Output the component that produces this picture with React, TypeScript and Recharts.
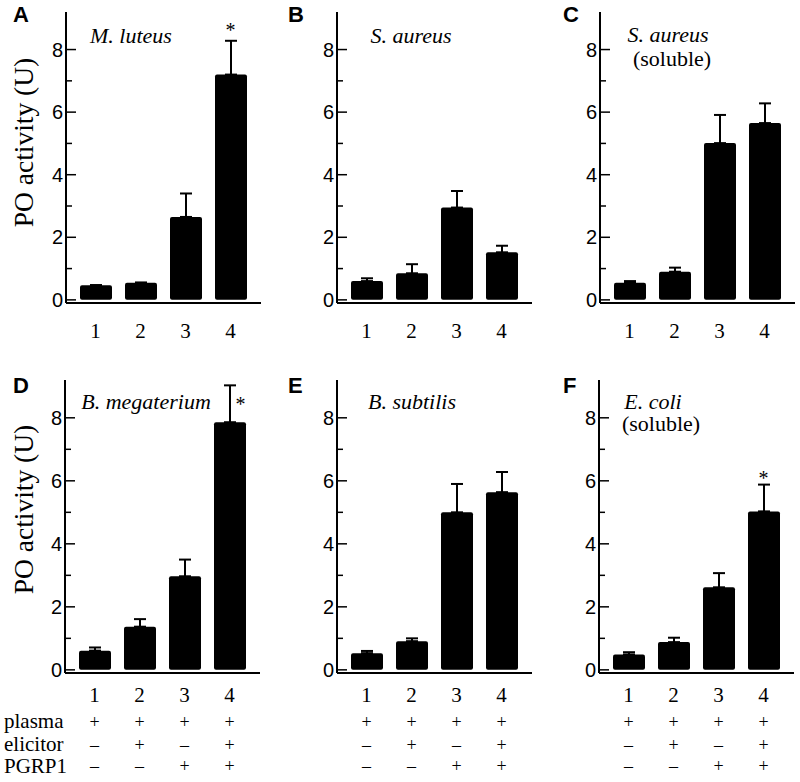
import React from "react";
import { BarChart, Bar, XAxis, YAxis, ErrorBar, ReferenceDot } from "recharts";

// experimental groups and axis ticks
const groups = ["1", "2", "3", "4"];
const yTicks = [0, 1, 2, 3, 4, 5, 6, 7, 8];

// PO activity (U), mean and upper error per group
const meansA = [0.47, 0.55, 2.65, 7.2];
const semA = [0, 0, 0.75, 1.08];
const meansB = [0.6, 0.85, 2.95, 1.52];
const semB = [0.09, 0.29, 0.53, 0.21];
const meansC = [0.55, 0.9, 5.01, 5.65];
const semC = [0.05, 0.13, 0.9, 0.63];
const meansD = [0.61, 1.37, 2.97, 7.86];
const semD = [0.1, 0.24, 0.53, 1.17];
const meansE = [0.53, 0.91, 5.0, 5.64];
const semE = [0.07, 0.09, 0.9, 0.64];
const meansF = [0.49, 0.88, 2.62, 5.03];
const semF = [0.07, 0.14, 0.45, 0.85];

// treatment table
const rowLabels = ["plasma", "elicitor", "PGRP1"];
const plasma = ["+", "+", "+", "+"];
const elicitor = ["\u2013", "+", "\u2013", "+"];
const pgrp1 = ["\u2013", "\u2013", "+", "+"];

const SERIF = "'Liberation Serif', 'Times New Roman', serif";
const SANS = "'Liberation Sans', Arial, sans-serif";
const YDOMAIN: [number, number] = [-0.1, 9.2];
const PW = 195;
const YW = 45;

const YTick = (p: any) => {
  const { x, y, payload } = p;
  const v = payload.value;
  const major = v % 2 === 0;
  return (
    <g>
      <line x1={x} x2={x + (major ? 10 : 6)} y1={y} y2={y} stroke="#000" strokeWidth={1.5} />
      {major && (
        <text x={x - 3} y={y} dy={7} textAnchor="end" fontFamily={SANS} fontSize={20} fill="#000">
          {v}
        </text>
      )}
    </g>
  );
};

const XTick = (p: any, row: number) => {
  const { x, y, payload, index } = p;
  const i = index ?? groups.indexOf(payload.value);
  const sym = (s: string, dy: number) => (
    <text x={x} y={y + dy} textAnchor="middle" fontFamily={SERIF} fontSize={18} fill="#000">
      {s}
    </text>
  );
  return (
    <g>
      <text x={x} y={y + (row === 1 ? 35 : 29)} textAnchor="middle" fontFamily={SERIF} fontSize={21} fill="#000">
        {payload.value}
      </text>
      {row === 2 && sym(plasma[i], 55)}
      {row === 2 && sym(elicitor[i], 78)}
      {row === 2 && sym(pgrp1[i], 99)}
    </g>
  );
};

type Star = { group: string; level: number; dx: number };

function Panel(props: {
  means: number[];
  sem: number[];
  left: number;
  top: number;
  height: number;
  row: number;
  star?: Star;
}) {
  const { means, sem, left, top, height, row, star } = props;
  const data = groups.map((g, i) => ({ group: g, value: means[i], err: [0, sem[i]] }));
  const xh = row === 1 ? 45 : 108;
  const frame = { stroke: "#000", strokeWidth: 2 };
  const pad = { left: 7, right: 8 };
  return (
    <div style={{ position: "absolute", left: left - YW, top: top - 10 }}>
      <BarChart
        width={YW + PW + 10}
        height={10 + height + xh}
        data={data}
        margin={{ top: 10, right: 10, bottom: 0, left: 0 }}
      >
        <XAxis
          dataKey="group"
          height={xh}
          padding={pad}
          axisLine={frame}
          tickLine={false}
          tickSize={0}
          tickMargin={0}
          interval={0}
          tick={(p: any) => XTick(p, row)}
        />
        <XAxis
          xAxisId="top"
          dataKey="group"
          orientation="top"
          height={0}
          padding={pad}
          axisLine={frame}
          tick={false}
          tickLine={false}
        />
        <YAxis
          type="number"
          domain={YDOMAIN}
          ticks={yTicks}
          interval={0}
          width={YW}
          axisLine={frame}
          tickLine={false}
          tickSize={0}
          tickMargin={0}
          tick={(p: any) => <YTick {...p} />}
        />
        <YAxis
          yAxisId="right"
          orientation="right"
          type="number"
          domain={YDOMAIN}
          width={0}
          axisLine={frame}
          tick={false}
          tickLine={false}
        />
        <Bar dataKey="value" fill="#000" barSize={32} radius={2} isAnimationActive={false}>
          <ErrorBar dataKey="err" width={6} stroke="#000" strokeWidth={2} direction="y" />
        </Bar>
        {star && (
          <ReferenceDot
            x={star.group}
            y={star.level}
            ifOverflow="visible"
            shape={(s: any) => (
              <text
                x={s.cx + star.dx}
                y={s.cy + 10}
                textAnchor="middle"
                fontFamily={SERIF}
                fontSize={20}
                fill="#000"
              >
                *
              </text>
            )}
          />
        )}
      </BarChart>
    </div>
  );
}

export default function App() {
  const it = { fontFamily: SERIF, fontSize: 22, fontStyle: "italic" as const, fill: "#000" };
  const up = { fontFamily: SERIF, fontSize: 22, fill: "#000" };
  const letter = { fontFamily: SANS, fontSize: 22, fontWeight: 700, fill: "#000" };
  return (
    <div style={{ position: "absolute", left: 0, top: 0, width: 800, height: 782, background: "#fff", overflow: "hidden" }}>
      <Panel means={meansA} sem={semA} left={66} top={12} height={291} row={1} star={{ group: "4", level: 8.73, dx: 0 }} />
      <Panel means={meansB} sem={semB} left={337} top={12} height={291} row={1} />
      <Panel means={meansC} sem={semC} left={600} top={12} height={291} row={1} />
      <Panel means={meansD} sem={semD} left={65} top={380} height={293} row={2} star={{ group: "4", level: 8.52, dx: 11 }} />
      <Panel means={meansE} sem={semE} left={337} top={380} height={293} row={2} />
      <Panel means={meansF} sem={semF} left={599} top={380} height={293} row={2} star={{ group: "4", level: 6.2, dx: 0 }} />
      <svg width={800} height={782} style={{ position: "absolute", left: 0, top: 0, pointerEvents: "none" }}>
        <text x={13} y={22} {...letter}>A</text>
        <text x={288} y={22} {...letter}>B</text>
        <text x={563} y={22} {...letter}>C</text>
        <text x={13} y={393} {...letter}>D</text>
        <text x={288} y={393} {...letter}>E</text>
        <text x={563} y={393} {...letter}>F</text>

        <text transform="translate(33,142.5) rotate(-90)" textAnchor="middle" fontFamily={SERIF} fontSize={27.5} fill="#000">
          PO activity (U)
        </text>
        <text transform="translate(33,509.5) rotate(-90)" textAnchor="middle" fontFamily={SERIF} fontSize={27.5} fill="#000">
          PO activity (U)
        </text>

        <text x={131} y={43} textAnchor="middle" {...it}>M. luteus</text>
        <text x={411} y={43} textAnchor="middle" {...it}>S. aureus</text>
        <text x={668} y={42} textAnchor="middle" {...it}>S. aureus</text>
        <text x={672} y={66} textAnchor="middle" {...up}>(soluble)</text>
        <text x={146} y={409} textAnchor="middle" {...it}>B. megaterium</text>
        <text x={412} y={409} textAnchor="middle" {...it}>B. subtilis</text>
        <text x={653} y={409} textAnchor="middle" {...it}>E. coli</text>
        <text x={661} y={431} textAnchor="middle" {...up}>(soluble)</text>

        {rowLabels.map((r, i) => (
          <text key={r} x={4} y={728 + [0, 23, 45][i]} fontFamily={SERIF} fontSize={21} fill="#000">
            {r}
          </text>
        ))}
      </svg>
    </div>
  );
}
